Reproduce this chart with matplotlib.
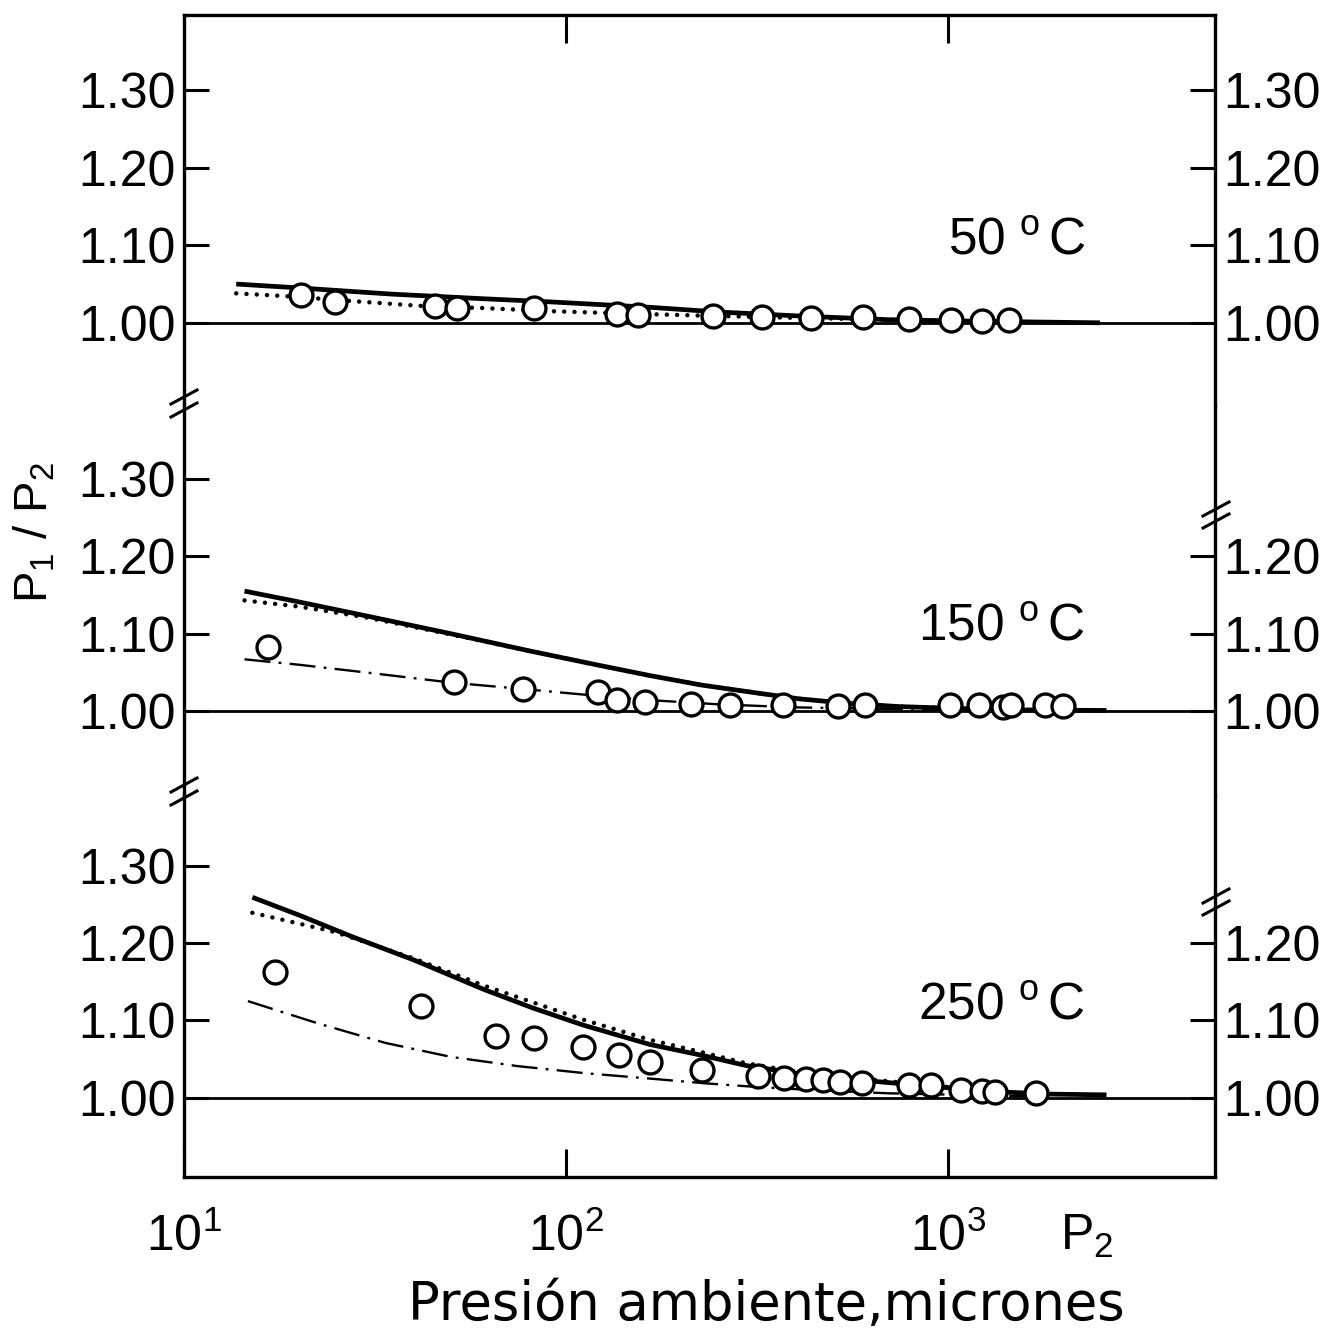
import matplotlib
matplotlib.use("Agg")
import matplotlib.pyplot as plt
from matplotlib.ticker import NullLocator, FixedLocator, LogFormatterSciNotation

plt.rcParams['font.family'] = ['Liberation Sans', 'DejaVu Sans']
plt.rcParams['mathtext.fontset'] = 'custom'
plt.rcParams['mathtext.rm'] = 'Liberation Sans'
plt.rcParams['mathtext.it'] = 'Liberation Sans:italic'
plt.rcParams['mathtext.default'] = 'regular'

# ---------------- data ----------------
temp_labels = [r"50 $^{o}\,$C", r"150 $^{o}\,$C", r"250 $^{o}\,$C"]

# 50 C
p_obs_50 = [20.2, 24.9, 45.4, 51.7, 82.7, 136, 154, 243, 325, 439, 598, 791, 1016, 1228, 1442]
r_obs_50 = [1.036, 1.027, 1.022, 1.019, 1.019, 1.012, 1.010, 1.009, 1.007, 1.006, 1.007, 1.005, 1.003, 1.002, 1.004]
p_sol_50 = [13.7, 20, 35, 61, 91, 166, 250, 400, 700, 1200, 2500]
r_sol_50 = [1.050, 1.045, 1.037, 1.031, 1.027, 1.020, 1.014, 1.009, 1.004, 1.002, 1.000]
p_dot_50 = [13.7, 19, 27.6, 41, 61, 91, 123, 200, 350, 700, 1500]
r_dot_50 = [1.038, 1.034, 1.028, 1.022, 1.019, 1.015, 1.013, 1.010, 1.007, 1.004, 1.001]

# 150 C
p_obs_150 = [16.6, 51, 77, 121, 136, 161, 213, 269, 370, 514, 608, 1012, 1205, 1391, 1459, 1790, 2005]
r_obs_150 = [1.083, 1.038, 1.029, 1.025, 1.014, 1.012, 1.010, 1.008, 1.008, 1.007, 1.008,
             1.008, 1.008, 1.005, 1.008, 1.008, 1.007]
p_sol_150 = [14.4, 20, 30, 50, 80, 120, 166, 225, 322, 408, 551, 748, 1006, 1357, 2600]
r_sol_150 = [1.155, 1.141, 1.123, 1.100, 1.078, 1.060, 1.046, 1.034, 1.023, 1.016, 1.010, 1.006, 1.004, 1.002, 1.001]
p_dot_150 = [14.4, 20, 30, 50, 80, 120, 166, 225, 322, 408, 551, 748, 1006]
r_dot_150 = [1.143, 1.135, 1.121, 1.099, 1.078, 1.060, 1.046, 1.034, 1.023, 1.016, 1.010, 1.006, 1.004]
p_dd_150 = [14.4, 20, 30, 50, 80, 120, 170, 250, 400, 700, 1200, 2000]
r_dd_150 = [1.067, 1.060, 1.050, 1.037, 1.028, 1.020, 1.014, 1.009, 1.005, 1.003, 1.001, 1.000]

# 250 C
p_obs_250 = [17.3, 41.7, 65.7, 82.4, 111, 138, 166, 227, 319, 372, 425, 471, 522, 595, 791, 901,
             1081, 1231, 1330, 1702]
r_obs_250 = [1.162, 1.119, 1.080, 1.077, 1.066, 1.056, 1.047, 1.036, 1.028, 1.026, 1.025, 1.023,
             1.021, 1.019, 1.017, 1.017, 1.010, 1.009, 1.008, 1.006]
p_sol_250 = [15.1, 20, 27.6, 40, 61, 82, 111, 166, 227, 295, 410, 622, 1010, 1356, 1830, 2600]
r_sol_250 = [1.259, 1.236, 1.208, 1.178, 1.140, 1.116, 1.094, 1.069, 1.055, 1.042, 1.031, 1.022,
             1.013, 1.008, 1.005, 1.004]
p_dot_250 = [15.1, 20, 24.9, 40, 61, 111, 166, 227, 295, 410, 622, 1010, 1356]
r_dot_250 = [1.239, 1.225, 1.214, 1.180, 1.145, 1.101, 1.075, 1.059, 1.045, 1.033, 1.024, 1.014, 1.009]
p_dd_250 = [14.7, 22.5, 33.7, 50, 75, 112, 166, 230, 320, 450, 700, 1100, 1700]
r_dd_250 = [1.125, 1.096, 1.071, 1.053, 1.041, 1.032, 1.025, 1.019, 1.014, 1.010, 1.006, 1.004, 1.002]

y_ticks_left = [1.00, 1.10, 1.20, 1.30]
y_labels_left = ["1.00", "1.10", "1.20", "1.30"]
y_ticks_right = [[1.00, 1.10, 1.20, 1.30], [1.00, 1.10, 1.20], [1.00, 1.10, 1.20]]
x_ticks_top = [100, 1000]
x_ticks_bottom = [10, 100, 1000]
x_range = (10, 5000)
y_ranges = [(0.894, 1.397), (0.892, 1.395), (0.898, 1.391)]

panels = [
    dict(obs=(p_obs_50, r_obs_50), sol=(p_sol_50, r_sol_50), dot=(p_dot_50, r_dot_50), dd=None),
    dict(obs=(p_obs_150, r_obs_150), sol=(p_sol_150, r_sol_150), dot=(p_dot_150, r_dot_150),
         dd=(p_dd_150, r_dd_150)),
    dict(obs=(p_obs_250, r_obs_250), sol=(p_sol_250, r_sol_250), dot=(p_dot_250, r_dot_250),
         dd=(p_dd_250, r_dd_250)),
]

# ---------------- figure ----------------
W, H = 1322, 1339
fig = plt.figure(figsize=(W / 100, H / 100), dpi=100)
left_px, right_px = 184, 1215
bounds_px = [(15, 405), (405, 795), (795, 1177)]
label_pos = [(0.741, 0.385), (0.712, 0.397), (0.712, 0.411)]

SPW = 2.4
axes = []
for i, ((t, b), pan) in enumerate(zip(bounds_px, panels)):
    ax = fig.add_axes([left_px / W, 1 - b / H, (right_px - left_px) / W, (b - t) / H])
    ax.set_xscale('log')
    ax.set_xlim(*x_range)
    ax.set_ylim(*y_ranges[i])
    for s in ax.spines.values():
        s.set_linewidth(SPW)
    if i > 0:
        ax.spines['top'].set_visible(False)
    if i < 2:
        ax.spines['bottom'].set_visible(False)

    ax.axhline(1.0, color='black', lw=2.0, zorder=2)
    ps, rs = pan['sol']
    ax.plot(ps, rs, color='black', lw=3.4, solid_capstyle='butt', solid_joinstyle='round', zorder=3)
    pd_, rd_ = pan['dot']
    ax.plot(pd_, rd_, color='black', lw=3.2, linestyle=(0, (0.01, 2.3)),
            dash_capstyle='round', zorder=3)
    if pan['dd'] is not None:
        pdd, rdd = pan['dd']
        ax.plot(pdd, rdd, color='black', lw=1.7, linestyle=(0, (11, 3.5, 1.2, 3.5)), zorder=3)
    po, ro = pan['obs']
    ax.plot(po, ro, linestyle='none', marker='o', ms=16.5, mfc='white', mec='black',
            mew=2.4, zorder=5)

    ax.text(label_pos[i][0], label_pos[i][1], temp_labels[i], transform=ax.transAxes,
            fontsize=37, ha='left', va='baseline')

    # y axis (left)
    ax.yaxis.set_major_locator(FixedLocator(y_ticks_left))
    ax.set_yticklabels(y_labels_left)
    ax.yaxis.set_minor_locator(NullLocator())
    ax.tick_params(axis='y', which='major', direction='in', length=18, width=2.2,
                   labelsize=36, pad=6, left=True, right=False)
    # y axis (right)
    axr = ax.twinx()
    axr.set_ylim(*y_ranges[i])
    axr.set_xscale('log')
    axr.set_xlim(*x_range)
    for s in axr.spines.values():
        s.set_visible(False)
    axr.yaxis.set_major_locator(FixedLocator(y_ticks_right[i]))
    axr.set_yticklabels(["%.2f" % v for v in y_ticks_right[i]])
    axr.yaxis.set_minor_locator(NullLocator())
    axr.tick_params(axis='y', which='major', direction='in', length=18, width=2.2,
                    labelsize=36, pad=6)

    # x axis
    ax.xaxis.set_minor_locator(NullLocator())
    if i == 0:
        ax.xaxis.set_major_locator(FixedLocator(x_ticks_top))
        ax.tick_params(axis='x', which='major', direction='in', length=20, width=2.2,
                       top=True, bottom=False, labeltop=False, labelbottom=False)
    elif i == 1:
        ax.xaxis.set_major_locator(NullLocator())
        ax.tick_params(axis='x', top=False, bottom=False, labelbottom=False)
    else:
        ax.xaxis.set_major_locator(FixedLocator(x_ticks_bottom))
        ax.xaxis.set_major_formatter(LogFormatterSciNotation())
        ax.tick_params(axis='x', which='major', direction='in', length=20, width=2.2,
                       top=False, bottom=True, labelsize=36, pad=26)
    axes.append(ax)


# scale-break marks (decorations in figure pixels)
def slash(xc, yc, dx=13, dy=7):
    fig.add_artist(plt.Line2D([(xc - dx) / W, (xc + dx) / W],
                              [1 - (yc + dy) / H, 1 - (yc - dy) / H],
                              transform=fig.transFigure, color='black', lw=2.2))


for yc in (397, 410, 785, 798):
    slash(left_px, yc)
for yc in (509, 521, 896, 908):
    slash(right_px + 1, yc)

# axis labels
fig.text(35 / W, 1 - 532 / H, "P$_{1}$ / P$_{2}$", rotation=90, fontsize=34,
         ha='center', va='center')
fig.text(1060 / W, 1 - 1250 / H, "P$_{2}$", fontsize=36, ha='left', va='baseline')
fig.text(766 / W, 1 - 1305 / H, "Presión ambiente,micrones", fontsize=38,
         ha='center', va='center', family=['DejaVu Sans'])

fig.savefig("out.png", dpi=100)
